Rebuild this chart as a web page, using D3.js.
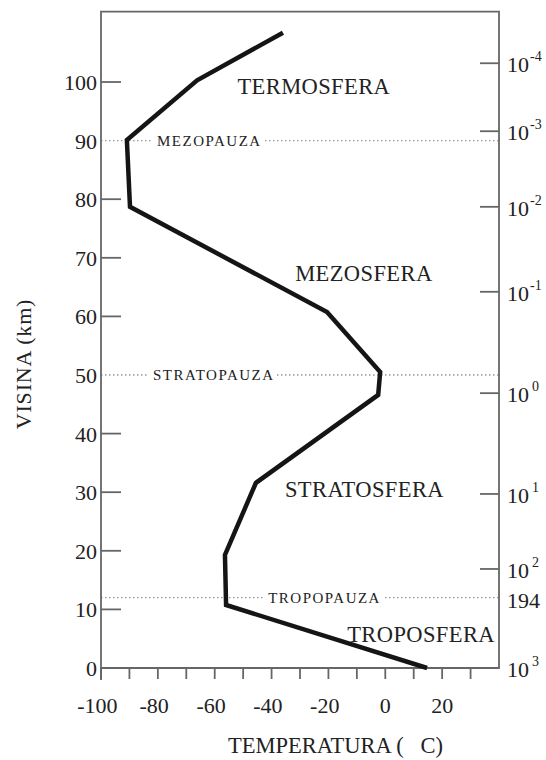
<!DOCTYPE html>
<html>
<head>
<meta charset="utf-8">
<script src="https://cdn.jsdelivr.net/npm/d3@7"></script>
<style>
  body { margin: 0; background: #fff; }
  svg text { font-family: "Liberation Serif", "Times New Roman", serif; fill: #222; }
</style>
</head>
<body>
<svg id="chart" width="546" height="760"></svg>
<script>
// temperature profile, bottom to top
var temps     = [14.7, -56.0, -56.4, -45.5, -2.5, -1.8, -20.5, -89.8, -90.9, -66.2, -36.0];
var altitudes = [0, 10.75, 19.3, 31.6, 46.6, 50.5, 60.75, 78.7, 90.1, 100.3, 108.4];

var altTicks  = [0, 10, 20, 30, 40, 50, 60, 70, 80, 90, 100];
var tempTicks = [-100, -90, -80, -70, -60, -50, -40, -30, -20, -10, 0, 10, 20, 30];
var tempLabels = [-100, -80, -60, -40, -20, 0, 20];

// pressure scale on the right (hPa), placed by altitude
var pressBase = ["10", "10", "10", "10", "10", "10", "10", "194", "10"];
var pressExp  = ["-4", "-3", "-2", "-1", "0", "1", "2", "", "3"];
var pressAlt  = [103.2, 91.6, 78.7, 64.2, 46.9, 29.7, 16.9, 11.8, 0];
var pressTick = [true, true, true, true, true, true, true, false, false];

// layers and pauses
var layerNames = ["TERMOSFERA", "MEZOSFERA", "STRATOSFERA", "TROPOSFERA"];
var layerAt    = [[-52, 98], [-31.7, 66], [-35.3, 29.2], [-13.4, 4.4]];
var pauseNames = ["MEZOPAUZA", "STRATOPAUZA", "TROPOPAUZA"];
var pauseAlt   = [90, 50, 12];
var pauseTemp  = [-80.3, -81.7, -41.2];

var svg = d3.select("#chart"),
	x = d3.scaleLinear().domain([-100, 40]).range([101, 499]),
	y = d3.scaleLinear().domain([0, 100]).range([668, 82]),
	yTop = 112,
	axisColor = "#666";

// dotted pause lines + labels
pauseAlt.forEach(function(a, i) {
	svg.append("line")
		.attr("x1", x(-100)).attr("x2", x(40))
		.attr("y1", y(a)).attr("y2", y(a))
		.attr("stroke", "#999").attr("stroke-width", 1.3)
		.attr("stroke-dasharray", "1.5,2.5");
	var t = svg.append("text")
		.attr("x", x(pauseTemp[i])).attr("y", y(a) + 5)
		.style("font-size", "15px").style("letter-spacing", "1.5px")
		.text(pauseNames[i]);
	var b = t.node().getBBox();
	svg.insert("rect", "text:last-of-type")
		.attr("x", b.x - 4).attr("y", y(a) - 3)
		.attr("width", b.width + 6).attr("height", 6)
		.attr("fill", "#fff");
});

// frame
svg.append("path")
	.attr("d", "M" + x(-100) + "," + (y(0) + 12) + "V" + y(yTop) + "H" + x(40) + "V" + y(0) + "H" + x(-100))
	.attr("fill", "none").attr("stroke", axisColor).attr("stroke-width", 1.8);

// left ticks (inside)
altTicks.forEach(function(v) {
	if (v != 0 && pauseAlt.indexOf(v) < 0)
		svg.append("line")
			.attr("x1", x(-100)).attr("x2", x(-100) + 20)
			.attr("y1", y(v)).attr("y2", y(v))
			.attr("stroke", axisColor).attr("stroke-width", 1.8);
	svg.append("text")
		.attr("x", x(-100) - 4).attr("y", y(v)).attr("dy", "0.36em")
		.attr("text-anchor", "end").style("font-size", "22px")
		.text(v);
});

// bottom ticks (outside)
tempTicks.forEach(function(v) {
	svg.append("line")
		.attr("x1", x(v)).attr("x2", x(v))
		.attr("y1", y(0)).attr("y2", y(0) + 11)
		.attr("stroke", axisColor).attr("stroke-width", 1.8);
});
tempLabels.forEach(function(v) {
	var t = svg.append("text")
		.attr("x", x(v)).attr("y", y(0) + 45)
		.attr("text-anchor", "middle").style("font-size", "22px")
		.text(Math.abs(v));
	if (v < 0) {
		var w = t.node().getComputedTextLength();
		svg.append("text")
			.attr("x", x(v) - w / 2).attr("y", y(0) + 45)
			.attr("text-anchor", "end").style("font-size", "22px")
			.text("-");
	}
});

// right pressure scale
pressAlt.forEach(function(a, i) {
	if (pressTick[i])
		svg.append("line")
			.attr("x1", x(40) - 19).attr("x2", x(40))
			.attr("y1", y(a)).attr("y2", y(a))
			.attr("stroke", axisColor).attr("stroke-width", 1.8);
	var t = svg.append("text")
		.attr("x", x(40) + 8).attr("y", y(a) + 9)
		.style("font-size", "22px");
	t.append("tspan").text(pressBase[i]);
	if (pressExp[i] != "")
		t.append("tspan")
			.attr("dx", pressExp[i].length == 1 ? 3 : 1).attr("dy", -11)
			.style("font-size", "14px")
			.text(pressExp[i]);
});

// temperature curve
var line = d3.line()
	.x(function(d, i) { return x(temps[i]); })
	.y(function(d, i) { return y(altitudes[i]); });

svg.append("path")
	.attr("d", line(altitudes))
	.attr("fill", "none")
	.attr("stroke", "#151515")
	.attr("stroke-width", 4.5)
	.attr("stroke-linejoin", "miter")
	.attr("stroke-miterlimit", 3);

// layer names
layerNames.forEach(function(n, i) {
	svg.append("text")
		.attr("x", x(layerAt[i][0])).attr("y", y(layerAt[i][1]))
		.style("font-size", "22.5px").style("letter-spacing", "0.4px")
		.text(n);
});

// axis titles
svg.append("text")
	.attr("transform", "translate(31,364) rotate(-90)")
	.attr("text-anchor", "middle")
	.style("font-size", "22px").style("letter-spacing", "0.8px")
	.text("VISINA (km)");

svg.append("text")
	.attr("x", 228).attr("y", 753)
	.style("font-size", "22.5px")
	.text("TEMPERATURA (\u00a0\u00a0\u00a0C)");
</script>
</body>
</html>
